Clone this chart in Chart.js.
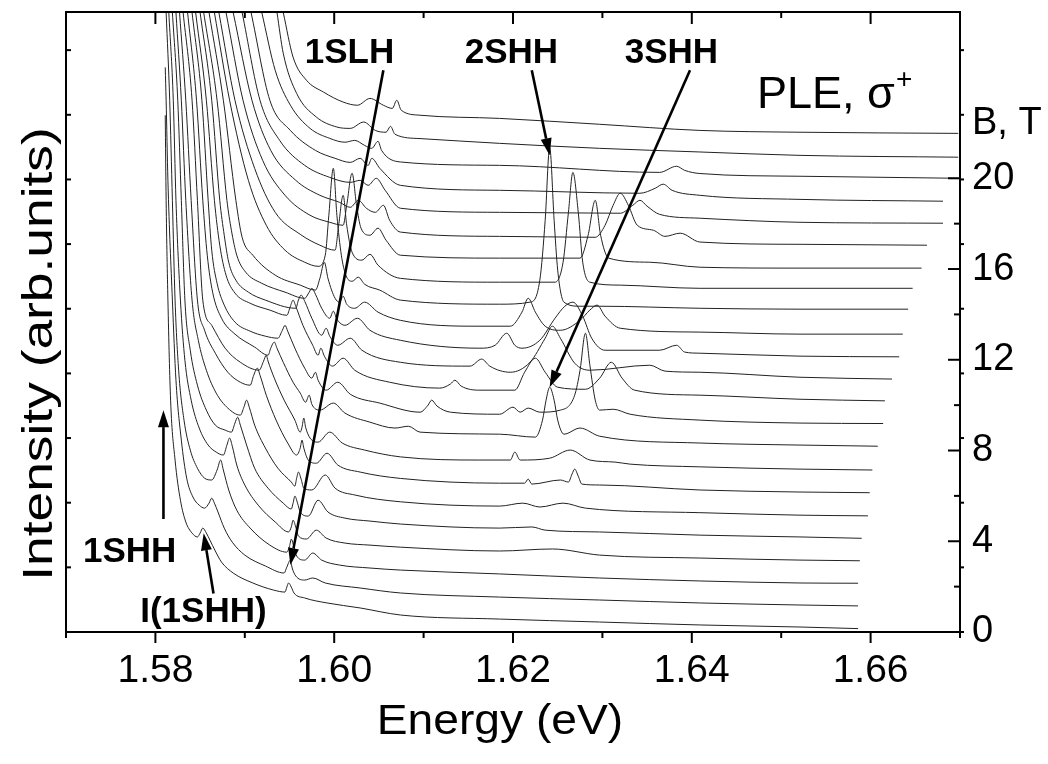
<!DOCTYPE html>
<html><head><meta charset="utf-8">
<script src="https://cdn.jsdelivr.net/npm/chart.js@4.4.0/dist/chart.umd.min.js"></script>
<style>html,body{margin:0;padding:0;background:#fff;}#wrap{width:1048px;height:764px;}</style>
</head><body><div id="wrap"><canvas id="c" width="1048" height="764"></canvas></div>
<script>
const FONT = '"Liberation Sans", Arial, Helvetica, sans-serif';
const fields = [0,1,2,3,4,5,6,7,8,9,10,11,12,13,14,15,16,17,18,19,20,21,22];
const energyTicks = [1.58,1.60,1.62,1.64,1.66];
const energyMinor = [1.57,1.59,1.61,1.63,1.65,1.67];
const fieldTicks = [0,4,8,12,16,20];
const fieldMinor = [2,6,10,14,18];
const intensityTicks = [0,1,2,3,4,5,6,7,8,9];

const b0 = [[1.5811,22.78],[1.5812,19.03],[1.5814,14.63],[1.5817,10.22],[1.5822,7.58],[1.5828,5.81],[1.5834,4.85],[1.5841,4.36],[1.5847,4.19],[1.5850,4.36],[1.5853,4.58],[1.5857,4.36],[1.5861,4.05],[1.5867,3.57],[1.5874,3.08],[1.5887,2.60],[1.5909,2.16],[1.5932,1.85],[1.5945,1.76],[1.5947,1.98],[1.5949,2.16],[1.5952,1.98],[1.5955,1.72],[1.5967,1.50],[1.5992,1.28],[1.6029,1.06],[1.6074,0.75],[1.6185,0.57],[1.6297,0.44],[1.6409,0.31],[1.6521,0.22],[1.6586,0.15]];
const b1 = [[1.5811,24.89],[1.5812,23.44],[1.5814,19.91],[1.5819,14.63],[1.5823,11.10],[1.5829,8.46],[1.5835,6.78],[1.5842,5.95],[1.5849,5.59],[1.5855,5.46],[1.5860,5.68],[1.5863,5.90],[1.5866,5.68],[1.5870,5.29],[1.5877,4.58],[1.5886,3.96],[1.5900,3.39],[1.5923,2.91],[1.5944,2.60],[1.5947,2.86],[1.5951,3.17],[1.5953,2.82],[1.5957,2.47],[1.5967,2.29],[1.5976,2.38],[1.5990,2.16],[1.6029,1.94],[1.6074,1.72],[1.6185,1.54],[1.6297,1.41],[1.6409,1.28],[1.6521,1.19],[1.6586,1.15]];
const b2 = [[1.5812,27.31],[1.5816,23.44],[1.5819,19.03],[1.5822,14.63],[1.5826,11.54],[1.5832,9.34],[1.5839,8.02],[1.5847,7.22],[1.5855,6.78],[1.5863,6.70],[1.5869,7.14],[1.5873,7.58],[1.5876,7.14],[1.5882,6.26],[1.5891,5.37],[1.5906,4.58],[1.5928,3.83],[1.5947,3.52],[1.5950,3.78],[1.5952,4.09],[1.5955,3.74],[1.5958,3.35],[1.5967,3.17],[1.5976,3.48],[1.5986,3.17],[1.6006,2.95],[1.6040,2.82],[1.6074,2.73],[1.6185,2.56],[1.6297,2.38],[1.6409,2.25],[1.6521,2.16],[1.6586,2.15]];
const b3 = [[1.5815,27.31],[1.5820,23.44],[1.5823,19.03],[1.5828,14.63],[1.5833,11.98],[1.5840,10.22],[1.5849,8.99],[1.5859,8.24],[1.5868,7.93],[1.5876,7.80],[1.5880,8.24],[1.5883,8.55],[1.5886,8.19],[1.5891,7.36],[1.5900,6.48],[1.5915,5.59],[1.5934,4.85],[1.5949,4.41],[1.5952,4.63],[1.5954,4.93],[1.5957,4.63],[1.5960,4.23],[1.5969,4.10],[1.5980,4.49],[1.5991,4.14],[1.6012,3.92],[1.6040,3.83],[1.6074,3.74],[1.6185,3.57],[1.6244,3.66],[1.6297,3.39],[1.6409,3.26],[1.6521,3.17],[1.6588,3.14]];
const b4 = [[1.5819,27.31],[1.5825,23.44],[1.5829,19.03],[1.5833,14.63],[1.5839,12.42],[1.5847,10.88],[1.5857,9.78],[1.5867,9.12],[1.5878,8.90],[1.5885,8.81],[1.5889,9.21],[1.5892,9.47],[1.5895,9.12],[1.5902,8.24],[1.5911,7.22],[1.5926,6.34],[1.5943,5.68],[1.5952,5.42],[1.5954,5.68],[1.5956,5.99],[1.5959,5.68],[1.5962,5.29],[1.5971,5.11],[1.5982,5.81],[1.5993,5.29],[1.6012,5.02],[1.6040,4.89],[1.6074,4.76],[1.6185,4.58],[1.6221,4.63],[1.6236,4.49],[1.6297,4.41],[1.6409,4.27],[1.6521,4.19],[1.6590,4.13]];
const b5 = [[1.5823,27.31],[1.5829,23.44],[1.5834,19.03],[1.5841,14.63],[1.5848,12.86],[1.5857,11.54],[1.5868,10.53],[1.5881,9.87],[1.5895,9.56],[1.5899,9.91],[1.5902,10.22],[1.5905,9.91],[1.5911,9.12],[1.5923,8.11],[1.5937,7.22],[1.5952,6.61],[1.5956,6.43],[1.5958,6.78],[1.5960,7.05],[1.5963,6.74],[1.5966,6.34],[1.5975,6.26],[1.5990,6.92],[1.6001,6.34],[1.6023,6.04],[1.6074,5.74],[1.6185,5.55],[1.6211,5.68],[1.6230,5.51],[1.6256,5.68],[1.6281,5.46],[1.6409,5.26],[1.6521,5.15],[1.6597,5.12]];
const b6 = [[1.5827,27.31],[1.5834,23.44],[1.5840,19.03],[1.5847,14.63],[1.5855,13.30],[1.5867,12.29],[1.5881,11.45],[1.5895,11.01],[1.5906,10.88],[1.5910,11.32],[1.5914,11.63],[1.5917,11.32],[1.5924,10.44],[1.5935,9.34],[1.5948,8.33],[1.5958,7.80],[1.5962,8.11],[1.5964,8.46],[1.5966,8.11],[1.5971,7.58],[1.5980,7.44],[1.5992,7.88],[1.6004,7.36],[1.6029,7.05],[1.6074,6.77],[1.6185,6.56],[1.6213,6.56],[1.6217,6.74],[1.6221,6.52],[1.6253,6.70],[1.6262,6.61],[1.6266,6.96],[1.6269,7.18],[1.6273,6.87],[1.6277,6.52],[1.6297,6.48],[1.6409,6.26],[1.6521,6.17],[1.6599,6.14]];
const b7 = [[1.5831,27.31],[1.5841,23.44],[1.5847,19.03],[1.5853,14.63],[1.5863,13.52],[1.5878,12.51],[1.5895,11.89],[1.5916,11.54],[1.5921,11.94],[1.5924,12.20],[1.5926,11.94],[1.5933,11.19],[1.5944,10.22],[1.5956,9.34],[1.5962,8.81],[1.5964,9.03],[1.5966,9.43],[1.5968,9.03],[1.5973,8.55],[1.5982,8.37],[1.5995,8.81],[1.6009,8.33],[1.6034,8.02],[1.6074,7.72],[1.6163,7.58],[1.6197,7.58],[1.6202,7.93],[1.6208,7.58],[1.6241,7.66],[1.6264,8.02],[1.6286,7.58],[1.6314,7.49],[1.6331,7.40],[1.6409,7.28],[1.6521,7.18],[1.6602,7.14]];
const b8 = [[1.5836,27.31],[1.5846,23.44],[1.5853,19.03],[1.5858,16.61],[1.5864,14.98],[1.5874,13.83],[1.5889,13.13],[1.5911,12.56],[1.5926,12.20],[1.5929,12.51],[1.5933,12.78],[1.5936,12.51],[1.5943,11.89],[1.5954,11.01],[1.5962,10.53],[1.5968,10.13],[1.5972,10.44],[1.5975,10.04],[1.5984,9.78],[1.5999,10.09],[1.6012,9.65],[1.6040,9.25],[1.6068,8.99],[1.6083,9.07],[1.6096,8.81],[1.6185,8.72],[1.6225,8.59],[1.6233,9.34],[1.6237,10.22],[1.6241,10.79],[1.6246,10.22],[1.6250,9.34],[1.6257,8.72],[1.6275,8.99],[1.6297,8.63],[1.6409,8.33],[1.6521,8.24],[1.6608,8.19]];
const b9 = [[1.5841,27.31],[1.5852,23.44],[1.5859,19.03],[1.5863,16.83],[1.5869,15.37],[1.5877,14.41],[1.5889,13.66],[1.5906,13.26],[1.5923,13.04],[1.5937,12.95],[1.5942,13.30],[1.5945,13.52],[1.5948,13.26],[1.5956,12.51],[1.5967,11.63],[1.5975,11.19],[1.5979,11.45],[1.5982,11.10],[1.5991,10.66],[1.6004,11.01],[1.6018,10.48],[1.6051,10.09],[1.6096,9.69],[1.6105,10.00],[1.6109,10.22],[1.6115,9.96],[1.6130,9.69],[1.6185,9.60],[1.6200,9.91],[1.6208,9.69],[1.6217,9.87],[1.6230,9.69],[1.6253,9.78],[1.6269,10.44],[1.6275,11.54],[1.6281,13.17],[1.6286,11.76],[1.6292,10.22],[1.6297,9.78],[1.6312,9.82],[1.6331,9.60],[1.6409,9.34],[1.6521,9.21],[1.6614,9.19]];
const b10 = [[1.5845,27.31],[1.5857,23.44],[1.5866,19.03],[1.5872,17.05],[1.5879,15.73],[1.5889,14.94],[1.5906,14.49],[1.5928,14.19],[1.5947,13.96],[1.5951,14.36],[1.5954,14.63],[1.5957,14.36],[1.5965,13.52],[1.5976,12.64],[1.5982,12.20],[1.5985,12.51],[1.5989,12.16],[1.5998,11.72],[1.6010,12.07],[1.6023,11.54],[1.6062,11.01],[1.6118,10.75],[1.6130,10.93],[1.6135,11.10],[1.6142,10.84],[1.6163,10.66],[1.6202,10.66],[1.6213,11.45],[1.6225,12.07],[1.6236,11.45],[1.6250,10.79],[1.6281,10.70],[1.6297,11.19],[1.6310,11.89],[1.6322,11.19],[1.6336,10.66],[1.6409,10.44],[1.6521,10.26],[1.6616,10.19]];
const b11 = [[1.5850,27.31],[1.5863,23.44],[1.5872,19.03],[1.5877,17.49],[1.5882,16.30],[1.5890,15.51],[1.5904,14.98],[1.5923,14.63],[1.5957,14.27],[1.5960,14.63],[1.5963,14.85],[1.5967,14.58],[1.5975,13.83],[1.5986,13.08],[1.5991,13.39],[1.5995,13.04],[1.6004,12.64],[1.6018,12.95],[1.6031,12.42],[1.6074,11.89],[1.6152,11.72],[1.6165,12.03],[1.6174,11.72],[1.6197,11.45],[1.6219,11.89],[1.6236,12.95],[1.6244,13.48],[1.6253,12.95],[1.6269,11.85],[1.6286,11.54],[1.6353,11.76],[1.6370,11.50],[1.6409,11.45],[1.6521,11.23],[1.6624,11.15]];
const b12 = [[1.5854,27.31],[1.5869,23.44],[1.5880,19.03],[1.5885,17.71],[1.5891,16.61],[1.5901,15.86],[1.5919,15.37],[1.5945,14.98],[1.5967,14.71],[1.5972,14.98],[1.5975,15.15],[1.5979,14.89],[1.5986,14.27],[1.5995,13.83],[1.5999,14.14],[1.6003,13.79],[1.6012,13.52],[1.6026,13.83],[1.6040,13.30],[1.6074,12.86],[1.6163,12.51],[1.6180,12.64],[1.6193,13.17],[1.6202,12.64],[1.6210,12.51],[1.6230,12.86],[1.6247,13.83],[1.6258,14.36],[1.6267,14.54],[1.6278,13.92],[1.6288,12.95],[1.6303,12.42],[1.6364,12.42],[1.6383,12.64],[1.6392,12.34],[1.6409,12.29],[1.6521,12.16],[1.6632,12.13]];
const b13 = [[1.5860,27.31],[1.5876,23.44],[1.5890,19.03],[1.5897,17.40],[1.5909,16.61],[1.5934,15.73],[1.5962,15.29],[1.5979,15.07],[1.5984,15.59],[1.5989,16.30],[1.5993,15.59],[1.6001,14.71],[1.6006,14.54],[1.6010,14.80],[1.6014,14.45],[1.6023,14.27],[1.6034,14.54],[1.6049,14.10],[1.6074,13.74],[1.6163,13.48],[1.6197,13.48],[1.6210,14.10],[1.6217,14.71],[1.6225,14.10],[1.6236,13.48],[1.6253,13.30],[1.6275,13.74],[1.6286,14.19],[1.6294,14.41],[1.6303,13.92],[1.6320,13.39],[1.6409,13.22],[1.6521,13.13],[1.6636,13.13]];
const b14 = [[1.5866,27.31],[1.5883,23.44],[1.5904,19.91],[1.5924,17.93],[1.5945,16.83],[1.5967,16.30],[1.5982,16.12],[1.5990,16.61],[1.5994,18.37],[1.5999,20.44],[1.6003,18.37],[1.6008,16.61],[1.6013,15.73],[1.6020,15.46],[1.6027,15.64],[1.6034,15.33],[1.6051,15.07],[1.6074,14.63],[1.6185,14.45],[1.6219,14.54],[1.6230,15.51],[1.6236,18.15],[1.6241,21.37],[1.6246,18.15],[1.6250,15.95],[1.6257,14.54],[1.6275,14.36],[1.6297,14.36],[1.6409,14.27],[1.6521,14.23],[1.6642,14.23]];
const b15 = [[1.5871,27.31],[1.5889,23.44],[1.5911,20.44],[1.5934,18.50],[1.5962,17.53],[1.5984,17.05],[1.6001,16.83],[1.6005,17.93],[1.6010,19.25],[1.6014,17.93],[1.6020,16.74],[1.6031,16.39],[1.6040,16.65],[1.6049,16.17],[1.6074,15.59],[1.6185,15.42],[1.6247,15.42],[1.6256,16.30],[1.6262,18.50],[1.6267,20.26],[1.6273,18.50],[1.6278,16.30],[1.6286,15.42],[1.6320,15.29],[1.6409,15.15],[1.6521,15.15],[1.6647,15.15]];
const b16 = [[1.5879,27.31],[1.5898,23.44],[1.5920,20.79],[1.5945,19.25],[1.5973,18.37],[1.5995,18.06],[1.6010,17.93],[1.6014,18.81],[1.6020,20.22],[1.6025,18.81],[1.6030,17.80],[1.6040,17.49],[1.6049,17.80],[1.6058,17.27],[1.6074,16.61],[1.6185,16.48],[1.6275,16.48],[1.6284,17.49],[1.6292,19.03],[1.6298,17.49],[1.6307,16.48],[1.6353,16.30],[1.6409,16.08],[1.6521,16.04],[1.6657,16.04]];
const b17 = [[1.5887,27.31],[1.5908,23.44],[1.5929,21.23],[1.5957,19.91],[1.5984,19.25],[1.6006,18.94],[1.6018,18.72],[1.6027,19.03],[1.6036,18.68],[1.6046,18.50],[1.6055,18.81],[1.6062,18.15],[1.6074,17.63],[1.6185,17.44],[1.6292,17.40],[1.6303,17.93],[1.6312,18.81],[1.6320,19.34],[1.6329,18.81],[1.6339,17.93],[1.6357,17.71],[1.6370,17.44],[1.6387,17.58],[1.6409,17.19],[1.6521,17.09],[1.6663,17.05]];
const b18 = [[1.5897,27.31],[1.5917,23.44],[1.5939,21.67],[1.5967,20.57],[1.5995,20.04],[1.6018,19.82],[1.6029,19.91],[1.6038,19.69],[1.6047,20.00],[1.6057,19.47],[1.6074,18.68],[1.6185,18.50],[1.6320,18.46],[1.6334,18.81],[1.6342,19.03],[1.6350,18.77],[1.6364,18.41],[1.6409,18.24],[1.6521,18.06],[1.6681,18.02]];
const b19 = [[1.5907,27.31],[1.5928,23.44],[1.5951,22.11],[1.5979,21.23],[1.6001,20.88],[1.6018,20.70],[1.6029,20.88],[1.6038,20.57],[1.6042,20.88],[1.6051,20.44],[1.6074,19.69],[1.6185,19.47],[1.6342,19.34],[1.6359,19.56],[1.6368,19.74],[1.6378,19.47],[1.6409,19.25],[1.6521,19.07],[1.6681,18.99]];
const b20 = [[1.5919,27.31],[1.5934,24.76],[1.5951,23.22],[1.5973,22.20],[1.5995,21.76],[1.6012,21.59],[1.6023,21.67],[1.6034,21.45],[1.6042,21.32],[1.6049,21.63],[1.6053,21.23],[1.6074,20.72],[1.6185,20.57],[1.6364,20.26],[1.6383,20.53],[1.6392,20.35],[1.6409,20.21],[1.6521,20.09],[1.6698,20.00]];
const b21 = [[1.5936,27.31],[1.5943,25.51],[1.5958,23.74],[1.5980,22.70],[1.6003,22.26],[1.6018,22.20],[1.6033,22.48],[1.6046,22.11],[1.6058,22.03],[1.6063,22.29],[1.6068,21.94],[1.6096,21.75],[1.6185,21.54],[1.6297,21.32],[1.6409,21.16],[1.6521,21.01],[1.6698,20.93]];
const b22 = [[1.5943,27.31],[1.5954,25.34],[1.5969,24.32],[1.5988,23.80],[1.6010,23.36],[1.6026,23.22],[1.6040,23.52],[1.6055,23.22],[1.6065,23.08],[1.6070,23.44],[1.6075,23.00],[1.6096,22.78],[1.6185,22.64],[1.6297,22.38],[1.6409,22.11],[1.6521,22.03],[1.6698,21.98]];

const traces = [b0,b1,b2,b3,b4,b5,b6,b7,b8,b9,b10,b11,b12,b13,b14,b15,b16,b17,b18,b19,b20,b21,b22];

// annotations in data coordinates [E, B]
const labels = [
  {text:'1SLH', at:[1.5967,25.07]},
  {text:'2SHH', at:[1.6146,25.07]},
  {text:'3SHH', at:[1.6325,25.07]},
  {text:'1SHH', at:[1.5719,3.10]},
  {text:'I(1SHH)', at:[1.5783,0.45]}
];
const arrows = [
  {from:[1.5809,4.98], to:[1.5809,9.78]},
  {from:[1.5865,1.70], to:[1.5854,4.35]},
  {from:[1.6055,24.76], to:[1.5951,2.95]},
  {from:[1.6221,24.76], to:[1.6241,21.01]},
  {from:[1.6398,24.76], to:[1.6241,10.79]}
];
const headerPos = 22.4;
const xTitle = 'Energy (eV)';
const yTitle = 'Intensity (arb.units)';

const decor = {
  id:'decor',
  afterDraw(chart){
    const {ctx, chartArea:a, scales} = chart;
    const sx = scales.x, sy = scales.y, sl = scales.yL;
    ctx.save();
    ctx.strokeStyle = '#000';
    ctx.lineWidth = 2;
    ctx.strokeRect(a.left, a.top, a.right-a.left, a.bottom-a.top);
    const seg = (x1,y1,x2,y2)=>{ctx.beginPath();ctx.moveTo(x1,y1);ctx.lineTo(x2,y2);ctx.stroke();};
    energyTicks.forEach(v=>{const p=sx.getPixelForValue(v); seg(p,a.bottom,p,a.bottom+11); seg(p,a.top,p,a.top+12);});
    energyMinor.forEach(v=>{const p=sx.getPixelForValue(v); seg(p,a.bottom,p,a.bottom+6); seg(p,a.top,p,a.top+6);});
    fieldTicks.forEach(v=>{const p=sy.getPixelForValue(v); seg(a.right-12,p,a.right,p);});
    fieldMinor.forEach(v=>{const p=sy.getPixelForValue(v); seg(a.right-6,p,a.right,p);});
    intensityTicks.forEach(v=>{const p=sl.getPixelForValue(v); seg(a.left,p,a.left+5,p); seg(a.right,p,a.right+4,p);});
    ctx.lineWidth = 2.6;
    ctx.fillStyle = '#000';
    arrows.forEach(ar=>{
      const x1=sx.getPixelForValue(ar.from[0]), y1=sy.getPixelForValue(ar.from[1]);
      const x2=sx.getPixelForValue(ar.to[0]), y2=sy.getPixelForValue(ar.to[1]);
      const ang=Math.atan2(y2-y1,x2-x1), L=17, W=5.5;
      const bx=x2-L*Math.cos(ang), by=y2-L*Math.sin(ang);
      seg(x1,y1,bx,by);
      ctx.beginPath();
      ctx.moveTo(x2,y2);
      ctx.lineTo(bx+W*Math.sin(ang), by-W*Math.cos(ang));
      ctx.lineTo(bx-W*Math.sin(ang), by+W*Math.cos(ang));
      ctx.closePath(); ctx.fill();
    });
    ctx.textBaseline='alphabetic'; ctx.textAlign='left';
    ctx.font = 'bold 35px '+FONT;
    labels.forEach(l=>{
      ctx.fillText(l.text, sx.getPixelForValue(l.at[0]), sy.getPixelForValue(l.at[1]));
    });
    const px = sx.getPixelForValue(1.6473), py = sy.getPixelForValue(23.08);
    ctx.font = '45px '+FONT;
    ctx.fillText('PLE, \u03c3', px, py);
    const w = ctx.measureText('PLE, \u03c3').width;
    ctx.font = '28px '+FONT;
    ctx.fillText('+', px+w+1, py-20);
    ctx.font = '42px '+FONT;
    ctx.textAlign='center'; ctx.textBaseline='middle';
    ctx.save();
    ctx.translate(500, 722);
    ctx.scale(1.1, 1);
    ctx.fillText(xTitle, 0, 0);
    ctx.restore();
    ctx.save();
    ctx.translate(40, 354);
    ctx.rotate(-Math.PI/2);
    ctx.scale(1.27, 1);
    ctx.fillText(yTitle, 0, 0);
    ctx.restore();
    ctx.restore();
  }
};

new Chart(document.getElementById('c'), {
  type:'scatter',
  data:{datasets: traces.map((d,i)=>({label: fields[i]+' T', data:d, showLine:true, borderColor:'#222', borderWidth:1, pointRadius:0, pointHoverRadius:0, cubicInterpolationMode:'monotone', fill:false, xAxisID:'x', yAxisID:'y'}))},
  options:{
    responsive:false, animation:false, devicePixelRatio:1,
    layout:{padding:{top:12,left:0,right:0,bottom:0}},
    plugins:{legend:{display:false}, tooltip:{enabled:false}},
    scales:{
      x:{type:'linear', position:'bottom', min:1.57, max:1.67,
        afterBuildTicks:s=>{s.ticks = energyTicks.map(v=>({value:v}));},
        afterFit:s=>{s.height=132; s.paddingLeft=0; s.paddingRight=0;},
        ticks:{callback:v=>v.toFixed(2), color:'#000', font:{family:FONT,size:39}, padding:16, maxRotation:0, autoSkip:false},
        grid:{display:false, drawTicks:false}, border:{display:false},
        title:{display:false, text:xTitle}},
      y:{type:'linear', position:'right', min:0, max:27.33,
        afterBuildTicks:s=>{s.ticks = fieldTicks.map(v=>({value:v})).concat([{value:headerPos}]);},
        afterFit:s=>{s.width=88; s.paddingTop=0; s.paddingBottom=0;},
        ticks:{callback:v=>v===headerPos?'B, T':String(v), color:'#000', font:{family:FONT,size:38}, padding:12, autoSkip:false},
        grid:{display:false, drawTicks:false}, border:{display:false}},
      yL:{type:'linear', position:'left', min:0, max:9.59,
        afterBuildTicks:s=>{s.ticks = intensityTicks.map(v=>({value:v}));},
        afterFit:s=>{s.width=66; s.paddingTop=0; s.paddingBottom=0;},
        ticks:{display:false},
        grid:{display:false, drawTicks:false}, border:{display:false},
        title:{display:false, text:yTitle}}
    }
  },
  plugins:[decor]
});
</script></body></html>
